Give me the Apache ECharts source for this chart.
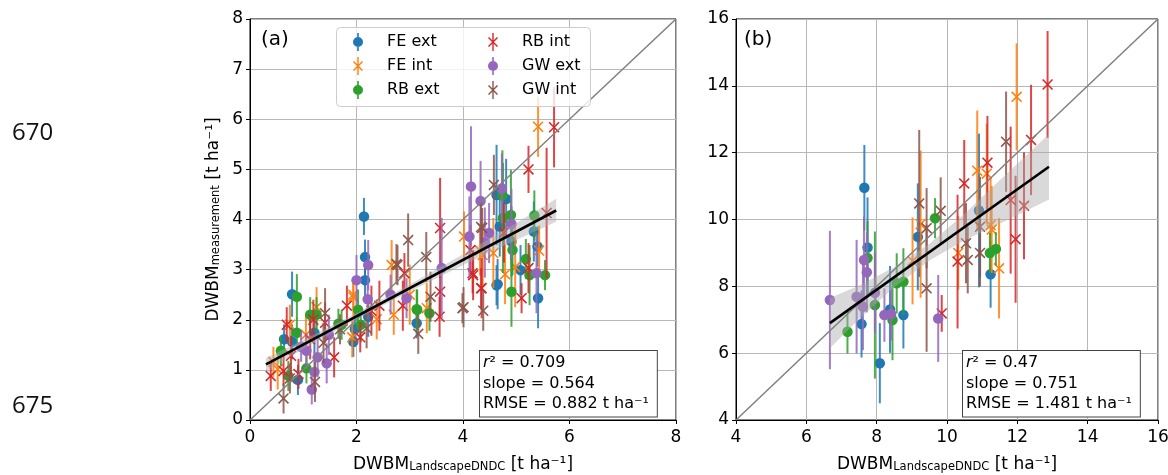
<!DOCTYPE html>
<html><head><meta charset="utf-8">
<script src="https://cdn.jsdelivr.net/npm/echarts@6/dist/echarts.min.js"></script>
<style>html,body{margin:0;padding:0;background:#fff}#c{width:1168px;height:475px}</style>
</head><body><div id="c"></div>
<script>
// ---------- data ----------
const seriesNames = ['FE ext', 'FE int', 'RB ext', 'RB int', 'GW ext', 'GW int'];
const seriesColors = ['#1f77b4', '#ff7f0e', '#2ca02c', '#d62728', '#9467bd', '#8c564b'];
const seriesIsExt = [true, false, true, false, true, false];

// panel (a): [x, y, err]
const feExtA = [[2.14,4.06,0.37],[0.79,2.51,0.45],[2.16,3.25,0.35],[1.97,1.81,0.35],[2.22,2.06,0.4],[0.64,1.61,0.3],[0.79,1.56,0.35],[1.21,1.74,0.4],[0.9,0.8,0.3],[3.13,1.93,0.3],[1.94,1.56,0.3],[2.16,2.79,0.4],[4.63,4.49,1.0],[4.81,4.41,0.8],[4.69,3.86,0.6],[4.91,3.56,0.7],[5.33,3.76,0.6],[5.4,3.46,0.4],[5.08,2.99,0.5],[4.65,2.71,0.5],[5.41,2.43,0.6],[4.63,2.69,0.4]];
const feIntA = [[5.41,5.85,0.6],[4.02,3.66,0.5],[4.37,3.29,0.6],[4.57,3.33,0.7],[5.43,3.38,0.5],[4.98,3.05,0.8],[4.79,2.91,0.6],[4.32,3.38,0.5],[1.94,2.45,0.4],[2.66,3.09,0.5],[2.7,2.1,0.4],[3.32,2.23,0.5],[1.94,2.5,0.3],[2.38,2.01,0.4],[1.92,1.65,0.4],[1.25,2.25,0.4],[1.05,1.7,0.4],[0.44,1.16,0.3],[0.52,1.01,0.4],[0.75,1.9,0.4],[3.0,2.5,0.6]];
const rbExtA = [[0.88,2.46,0.45],[2.03,2.2,0.4],[2.08,1.9,0.35],[1.72,1.9,0.3],[1.66,1.92,0.3],[1.13,2.1,0.35],[1.25,2.1,0.35],[0.88,1.74,0.3],[0.58,1.38,0.3],[0.72,0.88,0.3],[1.06,1.03,0.3],[3.13,2.21,0.4],[3.37,2.13,0.35],[3.14,2.2,0.4],[4.75,4.03,1.1],[4.9,4.09,0.9],[4.93,3.39,0.5],[5.34,4.08,0.5],[5.18,3.21,0.4],[5.25,2.89,0.6],[5.54,2.89,0.3],[4.91,2.56,0.7],[4.74,4.48,0.9]];
const rbIntA = [[5.71,5.84,0.8],[5.23,5.0,0.47],[5.57,4.13,1.3],[4.14,3.39,0.5],[4.18,2.93,0.4],[4.77,3.74,0.6],[5.23,3.03,0.5],[5.1,2.43,0.3],[4.34,2.63,0.4],[3.57,3.83,1.0],[3.57,2.56,0.5],[1.82,2.28,0.4],[2.87,2.28,0.5],[2.43,2.28,0.5],[3.56,2.06,0.4],[4.19,2.89,0.5],[4.35,2.63,0.6],[2.9,2.93,0.4],[2.28,2.18,0.5],[2.07,1.65,0.3],[1.41,1.94,0.4],[1.19,2.0,0.4],[0.69,1.9,0.35],[1.13,1.61,0.4],[1.58,1.25,0.4],[0.39,0.88,0.3],[0.63,0.98,0.3],[0.77,1.28,0.4],[0.91,0.92,0.3]];
const gwExtA = [[4.15,4.66,1.2],[4.33,4.37,0.8],[4.73,4.62,0.7],[4.12,3.66,0.8],[4.49,3.73,0.6],[4.41,3.54,0.7],[4.91,3.91,0.7],[5.38,2.93,0.8],[3.6,3.03,1.0],[2.22,3.09,0.5],[2.0,2.79,0.5],[2.64,2.5,0.4],[2.94,2.43,0.4],[2.21,2.41,0.4],[1.48,1.7,0.4],[0.96,1.46,0.3],[1.06,1.38,0.35],[1.27,1.25,0.4],[1.44,1.13,0.4],[1.21,0.96,0.4],[1.16,0.61,0.3]];
const gwIntA = [[2.97,3.59,0.53],[4.58,4.69,0.6],[4.36,3.83,0.4],[4.34,3.85,0.5],[2.75,3.11,0.4],[3.31,3.25,0.5],[3.16,1.72,0.4],[3.39,2.46,0.5],[4.01,2.25,0.4],[4.38,2.18,0.4],[3.99,2.23,0.3],[2.77,3.09,0.4],[2.19,1.83,0.4],[1.69,1.81,0.3],[1.41,2.13,0.5],[1.38,1.54,0.4],[1.22,0.76,0.4],[0.63,0.43,0.3],[0.75,0.83,0.3]];

// panel (b): [x, y, err]
const feExtB = [[7.65,10.95,1.28],[7.74,9.16,1.5],[7.57,6.87,1.0],[8.09,5.7,1.2],[8.38,7.31,1.3],[8.76,7.14,1.0],[9.17,9.48,1.6],[10.91,10.27,2.3],[11.24,8.36,1.0]];
const feIntB = [[9.02,8.76,1.3],[9.25,9.86,2.2],[10.32,9.0,1.1],[10.86,11.46,1.8],[11.13,11.37,1.5],[11.24,9.83,1.4],[11.48,8.54,1.5],[11.98,13.67,1.6],[11.27,9.7,1.3]];
const rbExtB = [[7.17,6.64,0.65],[7.74,8.85,1.1],[7.95,7.44,2.2],[8.45,6.99,1.2],[8.57,8.09,0.9],[8.76,8.14,1.0],[9.66,10.04,0.6],[11.22,9.0,0.6],[11.39,9.12,0.5]];
const rbIntB = [[9.85,7.19,0.55],[10.3,8.74,2.0],[10.49,11.08,1.3],[11.15,11.7,1.4],[11.81,10.58,2.2],[11.95,9.41,1.9],[12.19,10.41,1.6],[12.39,12.38,1.65],[12.86,14.04,1.6]];
const gwExtB = [[6.67,7.59,2.07],[7.64,8.79,1.3],[7.72,8.42,1.2],[7.43,7.69,1.7],[7.61,7.39,1.3],[7.95,7.81,1.2],[8.22,7.14,0.8],[8.41,7.17,0.8],[9.75,7.04,1.3]];
const gwIntB = [[9.21,10.48,2.2],[9.42,9.74,1.2],[9.42,7.94,1.9],[9.82,10.26,1.0],[10.54,9.29,1.2],[10.59,8.79,1.0],[10.94,9.0,1.0],[10.94,9.78,1.5],[11.68,12.33,1.5]];

// regression lines and confidence bands
const regLineA = [[0.3,1.11],[5.75,4.18]];
const bandXA = [0.3, 1, 2, 3, 4, 5, 5.75];
const bandHalfA = [0.13, 0.09, 0.06, 0.07, 0.11, 0.17, 0.23];
const regSlopeA = 0.564, regInterceptA = 0.94;
const regLineB = [[6.67,6.90],[12.9,11.58]];
const bandXB = [6.67, 7.5, 8.5, 9.5, 10.5, 11.5, 12.9];
const bandHalfB = [0.75, 0.5, 0.3, 0.25, 0.4, 0.65, 0.98];
const regSlopeB = 0.751, regInterceptB = 1.89;
const oneToOneA = [[0,0],[8,8]];
const oneToOneB = [[4,4],[16,16]];

// axis ticks
const xTicksA = [0, 8, 2];   // min, max, interval
const yTicksA = [0, 8, 1];
const xTicksB = [4, 16, 2];
const yTicksB = [4, 16, 2];

const statsA = ['0.709', '0.564', '0.882'];
const statsB = ['0.47', '0.751', '1.481'];

// ---------- chart ----------
const FONT = 'DejaVu Sans';
const xPath = 'path://M0,1 L1,0 L10,9 L9,10 Z M9,0 L10,1 L1,10 L0,9 Z';
const legExt = 'path://M4.2,0 L5.8,0 L5.8,18 L4.2,18 Z M0,9 A5,5 0 1,1 10,9 A5,5 0 1,1 0,9 Z';
const legInt = 'path://M4.3,0 L5.7,0 L5.7,18 L4.3,18 Z M0,5 L1,4 L10,13 L9,14 Z M9,4 L10,5 L1,14 L0,13 Z';

const series = [];
function addPanel(idx, sets) {
  sets.forEach((d, k) => {
    const col = seriesColors[k];
    series.push({
      type: 'custom', name: seriesNames[k] + ' error ' + idx,
      xAxisIndex: idx, yAxisIndex: idx, silent: true, z: 3 + k * 2,
      data: d.map(p => [p[0], p[1] - p[2], p[1] + p[2]]),
      encode: { x: 0, y: [1, 2] },
      renderItem(params, api) {
        const a = api.coord([api.value(0), api.value(1)]);
        const b = api.coord([api.value(0), api.value(2)]);
        return { type: 'line', shape: { x1: a[0], y1: a[1], x2: b[0], y2: b[1] },
          style: { stroke: col, lineWidth: 2, opacity: 0.85 } };
      }
    });
    series.push({
      type: 'scatter', name: seriesNames[k], xAxisIndex: idx, yAxisIndex: idx,
      z: 4 + k * 2, silent: true,
      data: d.map(p => [p[0], p[1]]),
      symbol: seriesIsExt[k] ? 'circle' : xPath,
      symbolSize: seriesIsExt[k] ? 10.5 : 11,
      itemStyle: { color: col, opacity: 1 }
    });
  });
}
addPanel(0, [feExtA, feIntA, rbExtA, rbIntA, gwExtA, gwIntA]);
addPanel(1, [feExtB, feIntB, rbExtB, rbIntB, gwExtB, gwIntB]);

function bandSeries(idx, xs, half, slope, intercept) {
  return {
    type: 'custom', name: 'band ' + idx, xAxisIndex: idx, yAxisIndex: idx, silent: true, z: 20,
    data: [[xs[0], slope * xs[0] + intercept]],
    renderItem(params, api) {
      const pts = [];
      xs.forEach((x, i) => pts.push(api.coord([x, slope * x + intercept + half[i]])));
      for (let i = xs.length - 1; i >= 0; i--) pts.push(api.coord([xs[i], slope * xs[i] + intercept - half[i]]));
      return { type: 'polygon', shape: { points: pts }, style: { fill: 'rgba(170,170,170,0.45)' } };
    }
  };
}
series.push(bandSeries(0, bandXA, bandHalfA, regSlopeA, regInterceptA));
series.push(bandSeries(1, bandXB, bandHalfB, regSlopeB, regInterceptB));
[[0, oneToOneA], [1, oneToOneB]].forEach(([i, d]) => series.push({
  type: 'line', xAxisIndex: i, yAxisIndex: i, data: d, symbol: 'none', silent: true, z: 21,
  lineStyle: { color: '#808080', width: 1.5 }
}));
[[0, regLineA], [1, regLineB]].forEach(([i, d]) => series.push({
  type: 'line', xAxisIndex: i, yAxisIndex: i, data: d, symbol: 'none', silent: true, z: 22,
  lineStyle: { color: '#000', width: 2.6 }
}));

const nameRich = {
  m: { fontSize: 17, color: '#000', fontFamily: FONT, lineHeight: 26, verticalAlign: 'bottom' },
  s: { fontSize: 11.5, color: '#000', fontFamily: FONT, lineHeight: 12, verticalAlign: 'bottom' }
};
function axisCommon(t) {
  return {
    type: 'value', min: t[0], max: t[1], interval: t[2],
    axisLine: { show: true, onZero: false, lineStyle: { color: '#000', width: 1 } },
    axisTick: { show: true, length: 4, lineStyle: { color: '#000', width: 1 } },
    splitLine: { show: true, lineStyle: { color: '#b8b8b8', width: 1 } },
    axisLabel: { color: '#000', fontSize: 17, fontFamily: FONT }
  };
}
const xName = '{m|DWBM}{s|LandscapeDNDC}{m| [t ha⁻¹]}';
const xAxis = [
  Object.assign(axisCommon(xTicksA), { gridIndex: 0, name: xName, nameLocation: 'middle', nameGap: 27, nameTextStyle: { rich: nameRich } }),
  Object.assign(axisCommon(xTicksB), { gridIndex: 1, name: xName, nameLocation: 'middle', nameGap: 27, nameTextStyle: { rich: nameRich } })
];
xAxis.forEach(a => a.axisLabel.margin = 9);
const yAxis = [
  Object.assign(axisCommon(yTicksA), { gridIndex: 0, name: '{m|DWBM}{s|measurement}{m| [t ha⁻¹]}', nameLocation: 'middle', nameGap: 28, nameRotate: 90, nameTextStyle: { rich: nameRich } }),
  Object.assign(axisCommon(yTicksB), { gridIndex: 1 })
];
yAxis.forEach(a => a.axisLabel.margin = 7);

function legendCol(left, items) {
  return {
    left: left, top: 33, orient: 'vertical', itemWidth: 48, itemHeight: 18, itemGap: 6, padding: 0, z: 120,
    selectedMode: false, textStyle: { fontSize: 16, fontFamily: FONT, color: '#000' },
    data: items.map(i => ({ name: seriesNames[i], icon: seriesIsExt[i] ? legExt : legInt }))
  };
}
const statRich = {
  t: { fontSize: 16, fontFamily: FONT, color: '#000', lineHeight: 20.5 },
  i: { fontSize: 16, fontFamily: FONT, color: '#000', fontStyle: 'italic', lineHeight: 20.5 }
};
function statText(left, top, s) {
  return {
    type: 'text', left: left, top: top, z: 130,
    style: {
      text: '{i|r}{t|² = ' + s[0] + '}\n{t|slope = ' + s[1] + '}\n{t|RMSE = ' + s[2] + ' t ha⁻¹}',
      rich: statRich, backgroundColor: '#fff', borderColor: '#444', borderWidth: 1,
      padding: [2, 8, 2, 3]
    }
  };
}

const option = {
  animation: false,
  backgroundColor: '#fff',
  grid: [
    { left: 250, top: 19, width: 426, height: 401, show: true, borderColor: '#000', borderWidth: 1, backgroundColor: 'transparent', outerBoundsMode: 'none', containLabel: false },
    { left: 736, top: 19, width: 422, height: 401, show: true, borderColor: '#000', borderWidth: 1, backgroundColor: 'transparent', outerBoundsMode: 'none', containLabel: false }
  ],
  xAxis: xAxis,
  yAxis: yAxis,
  legend: [legendCol(353, [0, 1, 2]), legendCol(488, [3, 4, 5])],
  graphic: [
    { type: 'text', left: 12, top: 121, style: { text: '670', fontSize: 24, fontFamily: 'Open Sans', fill: '#111' } },
    { type: 'text', left: 12, top: 394, style: { text: '675', fontSize: 24, fontFamily: 'Open Sans', fill: '#111' } },
    { type: 'text', left: 261, top: 30, z: 130, style: { text: '(a)', fontSize: 20, fontFamily: FONT, fill: '#000' } },
    { type: 'text', left: 744, top: 30, z: 130, style: { text: '(b)', fontSize: 20, fontFamily: FONT, fill: '#000' } },
    { type: 'rect', left: 336, top: 27, z: 100, shape: { width: 254, height: 79, r: 4 }, style: { fill: 'rgba(255,255,255,0.8)', stroke: '#cccccc', lineWidth: 1 } },
    statText(479, 350, statsA),
    statText(962, 350, statsB)
  ],
  series: series
};
const chart = echarts.init(document.getElementById('c'), null, { renderer: 'canvas' });
chart.setOption(option);
</script></body></html>
